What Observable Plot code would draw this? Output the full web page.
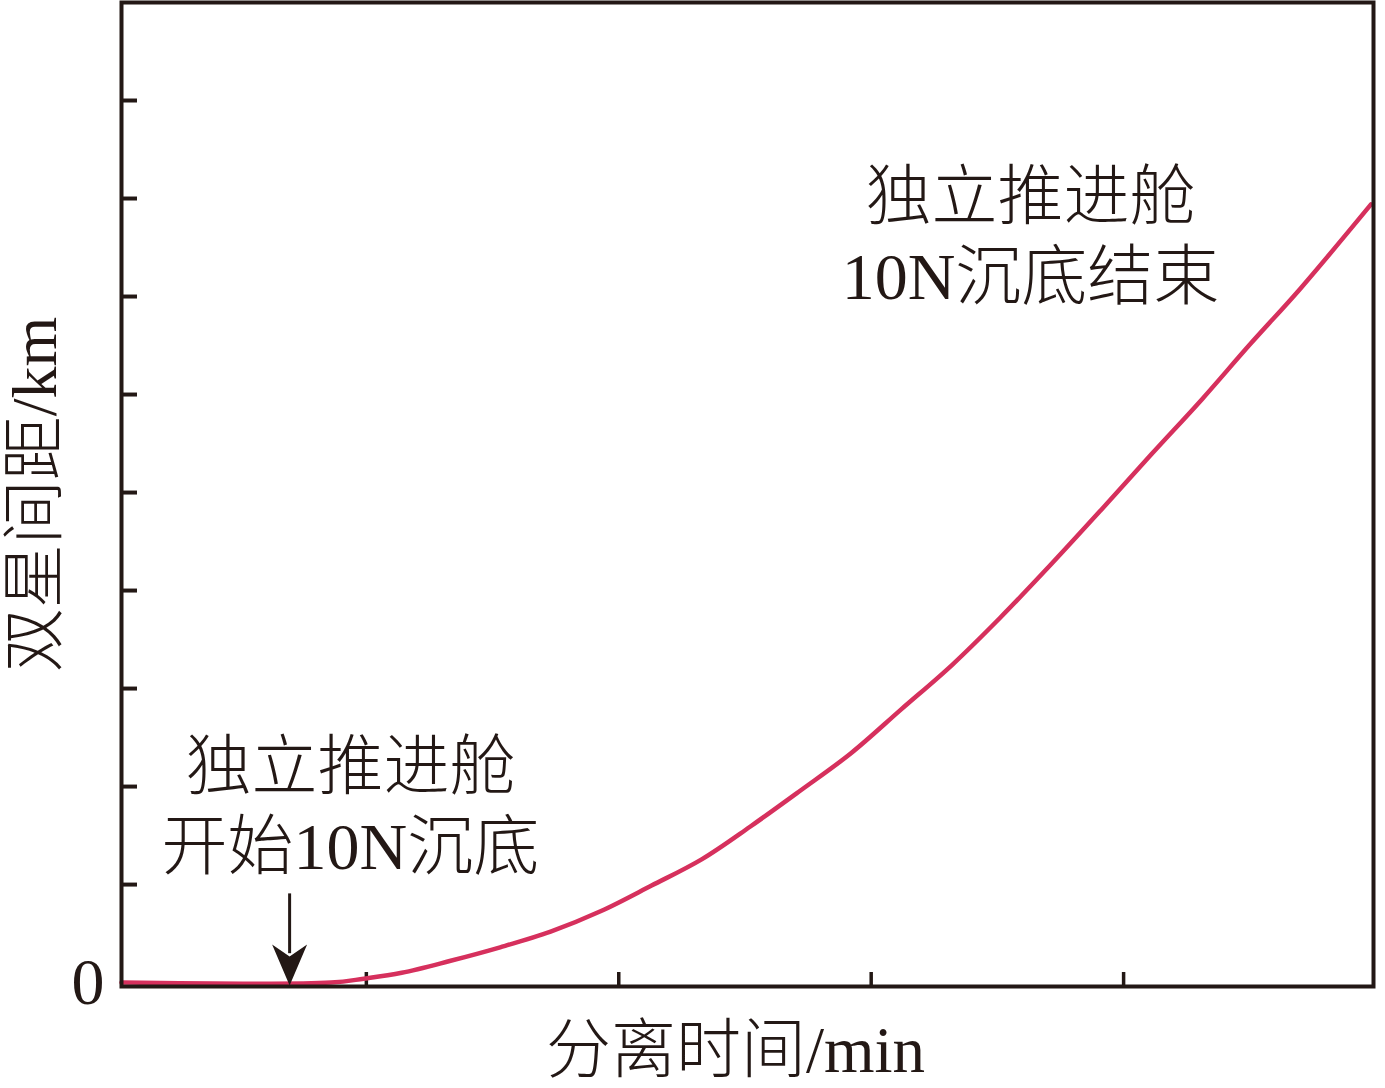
<!DOCTYPE html>
<html><head><meta charset="utf-8">
<script src="https://cdn.jsdelivr.net/npm/d3@7"></script>
<script src="https://cdn.jsdelivr.net/npm/@observablehq/plot@0.6"></script>
<style>html,body{margin:0;padding:0;background:#fff;}</style>
</head><body><div id="chart"></div>
<script>
// Data (x: separation time, y: distance between the two spacecraft)
const timeMin = [0.03, 0.86, 0.99, 1.14, 1.33, 1.53, 1.73, 1.93, 2.13, 2.33, 2.52, 2.72, 2.92, 3.12, 3.32, 3.51, 3.71, 3.91, 4.11, 4.31, 4.50, 4.70, 4.98];
const distanceKm = [0.00, 0.00, 0.04, 0.10, 0.22, 0.36, 0.52, 0.73, 0.99, 1.26, 1.59, 1.96, 2.34, 2.79, 3.24, 3.72, 4.26, 4.82, 5.39, 5.95, 6.51, 7.08, 7.94];
const xTicks = [1, 2, 3, 4];
const yTicks = [1, 2, 3, 4, 5, 6, 7, 8, 9];
const yTickLabels = ["0"];
const xLabel = "分离时间/min";
const yLabel = "双星间距/km";
const noteStart = ["独立推进舱", "开始10N沉底"];
const noteEnd = ["独立推进舱", "10N沉底结束"];
const arrowX = [0.696];

const ink = "#231815";
const font = "'Liberation Serif', 'Noto Sans CJK SC', serif";
const xDomain = [0.03, 4.99];
const yDomain = [-0.04, 10];
const xUnitPx = 1252 / (xDomain[1] - xDomain[0]);
const yUnitPx = 984 / (yDomain[1] - yDomain[0]);

const series = timeMin.map((t, i) => ({t, d: distanceKm[i]}));

const arrowHead = {
  draw(ctx) {
    ctx.moveTo(0, 0);
    ctx.lineTo(-17.5, -41);
    ctx.lineTo(0, -29);
    ctx.lineTo(17.5, -41);
    ctx.closePath();
  }
};

const chart = Plot.plot({
  width: 1385,
  height: 1088,
  marginLeft: 121,
  marginRight: 12,
  marginTop: 2,
  marginBottom: 102,
  style: {fontFamily: font, background: "#fff"},
  x: {domain: xDomain, axis: null},
  y: {domain: yDomain, axis: null},
  marks: [
    // inner ticks
    Plot.ruleY(yTicks, {y: d => d, x1: xDomain[0], x2: xDomain[0] + 16 / xUnitPx, stroke: ink, strokeWidth: 4}),
    Plot.ruleX(xTicks, {x: d => d, y1: yDomain[0], y2: yDomain[0] + 14 / yUnitPx, stroke: ink, strokeWidth: 3.5}),
    // curve
    Plot.line(series, {x: "t", y: "d", stroke: "#d6305d", strokeWidth: 4.5, curve: "catmull-rom", strokeLinecap: "round"}),
    // frame
    Plot.frame({stroke: ink, strokeWidth: 4}),
    // y tick label
    Plot.text(yTickLabels, {x: xDomain[0], y: 0, text: d => d, textAnchor: "end", dx: -17, fontSize: 66, fill: ink, lineAnchor: "middle"}),
    // arrow
    Plot.link(arrowX, {x1: d => d, x2: d => d, y1: 0.91, y2: 0.3, stroke: ink, strokeWidth: 3}),
    Plot.dot(arrowX, {x: d => d, y: -0.03, symbol: arrowHead, fill: ink, stroke: "none", r: 10}),
    // annotations
    Plot.text(noteStart, {x: 0.937, y: (d, i) => [2.195, 1.37][i], text: d => d, fontSize: 66, fill: ink, fontWeight: 300, lineAnchor: "middle"}),
    Plot.text(noteEnd, {x: 3.631, y: (d, i) => [8.01, 7.19][i], text: d => d, fontSize: 66, fill: ink, fontWeight: 300, lineAnchor: "middle"}),
    // axis labels
    Plot.text([xLabel], {frameAnchor: "bottom", dx: -12, dy: 65, text: d => d, fontSize: 65, fill: ink, fontWeight: 300, lineAnchor: "middle"}),
    Plot.text([yLabel], {x: xDomain[0] - 86 / xUnitPx, y: (yDomain[0] + yDomain[1]) / 2, rotate: -90, text: d => d, fontSize: 64, fill: ink, fontWeight: 300, lineAnchor: "middle"})
  ]
});
document.getElementById("chart").appendChild(chart);
</script>
</body></html>
